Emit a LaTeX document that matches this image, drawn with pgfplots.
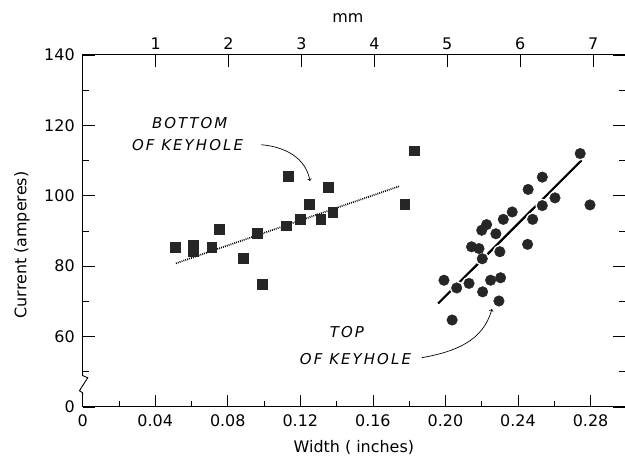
\documentclass[border=0pt]{standalone}
\usepackage{fontspec}
\setmainfont{DejaVu Sans}
\newfontfamily\annfont[LetterSpace=14]{DejaVu Sans}
\usepackage{pgfplots}
\pgfplotsset{compat=1.18}
\begin{document}
\begin{tikzpicture}
\begin{axis}[
  name=ax,
  scale only axis, width=542.4bp, height=352bp,
  xmin=0, xmax=0.299, ymin=40, ymax=140,
  clip=false,
  axis line style={line width=1pt},
  xtick={0,0.04,0.08,0.12,0.16,0.20,0.24,0.28},
  xticklabels={0,0.04,0.08,0.12,0.16,0.20,0.24,0.28},
  minor xtick={0.02,0.06,0.10,0.14,0.18,0.22,0.26},
  xtick pos=bottom,
  ytick={40,60,80,100,120,140},
  yticklabels={0,60,80,100,120,140},
  minor ytick={50,70,90,110,130},
  ytick pos=both,
  tick align=inside,
  major tick length=12bp, minor tick length=6bp,
  every tick/.style={line width=0.6pt, black},
  tick label style={font=\fontsize{16}{16}\selectfont},
  xticklabel style={yshift=-4bp},
  yticklabel style={xshift=-4.5bp},
  xlabel={Width ( inches)}, ylabel={Current (amperes)},
  label style={font=\fontsize{16}{16}\selectfont},
  xlabel style={at={(axis description cs:0.5,-0.116)}, anchor=center},
  ylabel style={at={(axis description cs:-0.112,0.46)}, anchor=center, rotate=0},
]
% fitted lines
\addplot[black, line width=1.7pt, dash pattern=on 0.9pt off 1.1pt] coordinates {(0.0514,80.8) (0.1745,102.7)};
\addplot[black, line width=2.2pt] coordinates {(0.1960,69.4) (0.2751,110.1)};
% squares (bottom of keyhole)
\addplot[only marks, mark=square*, mark size=4.9bp, mark options={fill=black!85, draw=black!85}] coordinates {
(0.0509,85.3) (0.0610,86.0) (0.0610,84.2) (0.0711,85.3) (0.0753,90.4)
(0.0886,82.2) (0.0989,74.9) (0.0963,89.3) (0.1135,105.5) (0.1121,91.5)
(0.1198,93.4) (0.1249,97.5) (0.1312,93.4) (0.1352,102.5) (0.1378,95.3)
(0.1775,97.5) (0.1826,112.8)};
% circles (top of keyhole): white halo, then black
\pgfplotstableread{
x y
0.2743 112.0
0.2534 105.3
0.2456 101.8
0.2604 99.4
0.2797 97.4
0.2534 97.2
0.2368 95.4
0.2319 93.3
0.2481 93.3
0.2227 91.8
0.2200 90.2
0.2278 89.2
0.2144 85.5
0.2185 85.0
0.2300 84.1
0.2453 86.2
0.2203 82.1
0.1992 76.0
0.2062 73.8
0.2130 75.1
0.2249 76.0
0.2304 76.7
0.2205 72.7
0.2295 70.1
0.2037 64.7
}\circdata
\addplot[only marks, mark=*, mark size=6.6bp, mark options={fill=white, draw=white}] table {\circdata};
\addplot[only marks, mark=*, mark size=5.3bp, mark options={fill=black!85, draw=black!85}] table {\circdata};
% annotations
\node[font=\annfont\itshape\fontsize{15}{15}\selectfont] at (axis cs:0.0590,120.7) {BOTTOM};
\node[font=\annfont\itshape\fontsize{15}{15}\selectfont] at (axis cs:0.0578,114.3) {OF KEYHOLE};
\draw[->, line width=0.7pt] (axis cs:0.0985,114.5) to[out=-5,in=100] (axis cs:0.1253,104.2);
\node[font=\annfont\itshape\fontsize{15}{15}\selectfont] at (axis cs:0.1457,61.2) {TOP};
\node[font=\annfont\itshape\fontsize{15}{15}\selectfont] at (axis cs:0.1504,53.5) {OF KEYHOLE};
\draw[->, line width=0.7pt] (axis cs:0.187,54) to[out=10,in=-105] (axis cs:0.2256,67.8);
% axis break
\draw[white, line width=2.5pt] (axis cs:0,43.6) -- (axis cs:0,49.4);
\draw[black, line width=0.9pt] (axis cs:0,49.6) -- (axis cs:0,48.9) -- (axis cs:0.0028,48.3) -- (axis cs:-0.0018,44.6) -- (axis cs:0,44.0) -- (axis cs:0,43.4);
\end{axis}
\begin{axis}[
  scale only axis, width=542.4bp, height=352bp,
  xmin=0, xmax=0.299, ymin=40, ymax=140,
  hide y axis,
  axis line style={line width=1pt},
  xtick pos=top, xticklabel pos=top,
  xtick={0.0402,0.0804,0.1206,0.1608,0.2010,0.2412,0.2814},
  xticklabels={1,2,3,4,5,6,7},
  tick align=inside,
  major tick length=12bp,
  every tick/.style={line width=0.6pt, black},
  tick label style={font=\fontsize{16}{16}\selectfont},
  xticklabel style={yshift=2bp},
  xlabel={mm},
  label style={font=\fontsize{16}{16}\selectfont},
  xlabel style={at={(axis description cs:0.489,1.105)}, anchor=center},
]
\end{axis}
\pgfresetboundingbox
\path[use as bounding box] ([xshift=-82.7bp,yshift=-55bp]ax.south west) rectangle ([yshift=55bp]ax.north east);
\end{tikzpicture}
\end{document}
